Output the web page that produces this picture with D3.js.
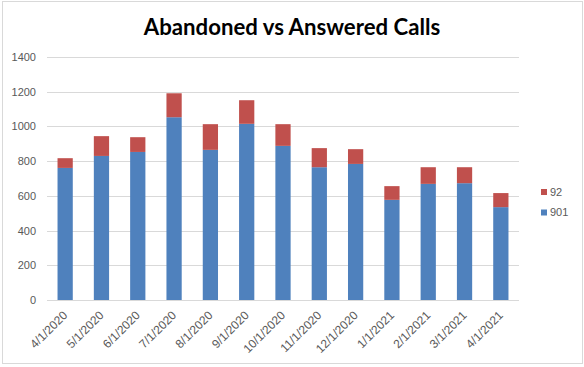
<!DOCTYPE html>
<html><head><meta charset="utf-8">
<script src="https://cdn.jsdelivr.net/npm/d3@7"></script>
<style>body{margin:0;background:#fff}svg{display:block}</style>
</head><body>
<script>
const categories = ["4/1/2020","5/1/2020","6/1/2020","7/1/2020","8/1/2020","9/1/2020","10/1/2020","11/1/2020","12/1/2020","1/1/2021","2/1/2021","3/1/2021","4/1/2021"];
const answered901 = [761,830,853,1053,865,1015,888,765,784,577,669,673,535];
const abandoned92 = [56,114,85,138,148,136,125,110,85,79,96,92,81];
const seriesNames = ["901","92"];
const yTicks = [0,200,400,600,800,1000,1200,1400];
const colors = {"901":"#4f81bd","92":"#c0504d"};

const W=584,H=367;
const FONT="'Liberation Sans', Arial, sans-serif";
const svg=d3.select("body").append("svg").attr("width",W).attr("height",H);
svg.append("rect").attr("x",2.5).attr("y",1.5).attr("width",580).attr("height",362).attr("fill","#fff").attr("stroke","#d9d9d9");

const m={left:47,right:519,top:57,bottom:300};
const x=d3.scaleBand().domain(categories).range([m.left,m.right]).paddingInner(0.58).paddingOuter(0.29);
const y=d3.scaleLinear().domain([0,1400]).range([m.bottom,m.top]);

const data=categories.map((c,i)=>({cat:c,"901":answered901[i],"92":abandoned92[i]}));
const stack=d3.stack().keys(seriesNames)(data);

// gridlines
svg.append("g").selectAll("line").data(yTicks).join("line")
  .attr("x1",m.left).attr("x2",m.right)
  .attr("y1",d=>Math.round(y(d))+0.5).attr("y2",d=>Math.round(y(d))+0.5)
  .attr("stroke","#d9d9d9").attr("stroke-width",1);

// y axis labels
const ya=svg.append("g").attr("transform",`translate(${m.left-11},0)`)
  .call(d3.axisLeft(y).tickValues(yTicks).tickFormat(d3.format("d")).tickSize(0).tickPadding(0));
ya.attr("font-family",FONT).attr("font-size",11);
ya.select(".domain").remove();
ya.selectAll("text").attr("fill","#595959");

// bars
svg.append("g").selectAll("g").data(stack).join("g").attr("fill",d=>colors[d.key])
  .selectAll("rect").data(d=>d).join("rect")
  .attr("x",d=>x(d.data.cat)).attr("width",x.bandwidth())
  .attr("y",d=>y(d[1])).attr("height",d=>y(d[0])-y(d[1]));

// x axis
const xa=svg.append("g").attr("transform",`translate(0,${m.bottom})`).call(d3.axisBottom(x).tickSize(0).tickPadding(0));
xa.attr("font-family",FONT).attr("font-size",12);
xa.select(".domain").remove();
xa.selectAll("text")
  .attr("fill","#595959")
  .attr("text-anchor","end").attr("dy",0)
  .attr("transform","translate(3,16) rotate(-45)");

// title
svg.append("text").attr("x",292).attr("y",35).attr("text-anchor","middle")
  .attr("font-family","Lato, Carlito, sans-serif").attr("font-weight","bold").attr("font-size",22.2)
  .attr("fill","#000").text("Abandoned vs Answered Calls");

// legend
const leg=svg.append("g");
["92","901"].forEach((k,i)=>{
  const yy=189+i*20.5;
  leg.append("rect").attr("x",541).attr("y",yy).attr("width",6).attr("height",6).attr("fill",colors[k]);
  leg.append("text").attr("x",550).attr("y",yy+6.5).attr("font-family",FONT).attr("font-size",11).attr("fill","#595959").text(k);
});
</script>
</body></html>
